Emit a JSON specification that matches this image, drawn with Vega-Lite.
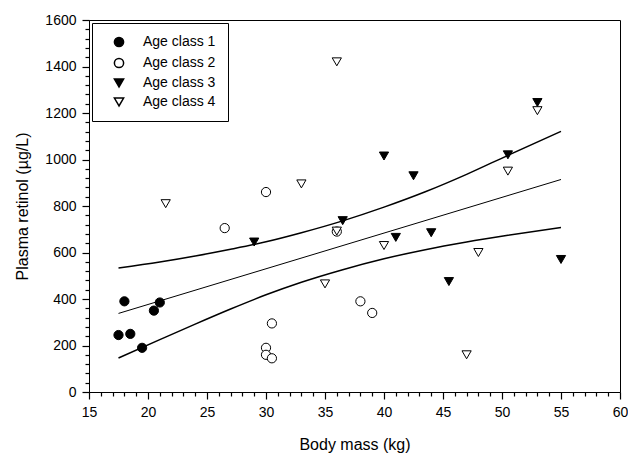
{
  "$schema": "https://vega.github.io/schema/vega-lite/v6.json",
  "width": 531,
  "height": 372,
  "autosize": {"type": "none"},
  "padding": {"left": 89, "top": 20, "right": 8, "bottom": 63},
  "background": "white",
  "config": {
    "font": "Liberation Sans",
    "view": {"stroke": "black", "strokeWidth": 1},
    "axis": {
      "domainColor": "black",
      "domainWidth": 1,
      "ticks": true,
      "tickColor": "black",
      "tickWidth": 1.2,
      "grid": false,
      "labelColor": "black",
      "labelFontSize": 14,
      "titleColor": "black",
      "titleFontSize": 16,
      "titleFontWeight": "normal"
    },
    "legend": {
      "orient": "none",
      "legendX": 3,
      "legendY": 3,
      "strokeColor": "black",
      "fillColor": "white",
      "padding": 12,
      "symbolOffset": 8,
      "labelOffset": 17,
      "labelFontSize": 14,
      "labelColor": "black",
      "rowPadding": 5
    }
  },
  "datasets": {
    "samples": [
      {"mass": 17.5, "retinol": 245, "cls": "Age class 1"},
      {"mass": 18, "retinol": 390, "cls": "Age class 1"},
      {"mass": 18.5, "retinol": 250, "cls": "Age class 1"},
      {"mass": 19.5, "retinol": 190, "cls": "Age class 1"},
      {"mass": 20.5, "retinol": 350, "cls": "Age class 1"},
      {"mass": 21, "retinol": 385, "cls": "Age class 1"},
      {"mass": 26.5, "retinol": 705, "cls": "Age class 2"},
      {"mass": 30, "retinol": 860, "cls": "Age class 2"},
      {"mass": 30.5, "retinol": 295, "cls": "Age class 2"},
      {"mass": 30, "retinol": 190, "cls": "Age class 2"},
      {"mass": 30, "retinol": 160, "cls": "Age class 2"},
      {"mass": 30.5, "retinol": 145, "cls": "Age class 2"},
      {"mass": 36, "retinol": 690, "cls": "Age class 2"},
      {"mass": 38, "retinol": 390, "cls": "Age class 2"},
      {"mass": 39, "retinol": 340, "cls": "Age class 2"},
      {"mass": 29, "retinol": 645, "cls": "Age class 3"},
      {"mass": 36.5, "retinol": 737, "cls": "Age class 3"},
      {"mass": 40, "retinol": 1015, "cls": "Age class 3"},
      {"mass": 42.5, "retinol": 930, "cls": "Age class 3"},
      {"mass": 41, "retinol": 665, "cls": "Age class 3"},
      {"mass": 44, "retinol": 685, "cls": "Age class 3"},
      {"mass": 45.5, "retinol": 475, "cls": "Age class 3"},
      {"mass": 50.5, "retinol": 1020, "cls": "Age class 3"},
      {"mass": 53, "retinol": 1245, "cls": "Age class 3"},
      {"mass": 55, "retinol": 570, "cls": "Age class 3"},
      {"mass": 21.5, "retinol": 810, "cls": "Age class 4"},
      {"mass": 33, "retinol": 895, "cls": "Age class 4"},
      {"mass": 36, "retinol": 1420, "cls": "Age class 4"},
      {"mass": 35, "retinol": 465, "cls": "Age class 4"},
      {"mass": 36, "retinol": 692, "cls": "Age class 4"},
      {"mass": 40, "retinol": 630, "cls": "Age class 4"},
      {"mass": 47, "retinol": 160, "cls": "Age class 4"},
      {"mass": 48, "retinol": 600, "cls": "Age class 4"},
      {"mass": 50.5, "retinol": 950, "cls": "Age class 4"},
      {"mass": 53, "retinol": 1210, "cls": "Age class 4"}
    ],
    "fit": [
      {"mass": 17.5, "retinol": 338, "curve": "fit"},
      {"mass": 55, "retinol": 914, "curve": "fit"}
    ],
    "band": [
      {"mass": 17.5, "retinol": 533, "curve": "upper"},
      {"mass": 21, "retinol": 559, "curve": "upper"},
      {"mass": 24, "retinol": 585, "curve": "upper"},
      {"mass": 27, "retinol": 614, "curve": "upper"},
      {"mass": 30, "retinol": 646, "curve": "upper"},
      {"mass": 33, "retinol": 685, "curve": "upper"},
      {"mass": 36.5, "retinol": 736, "curve": "upper"},
      {"mass": 40, "retinol": 795, "curve": "upper"},
      {"mass": 43.5, "retinol": 861, "curve": "upper"},
      {"mass": 47, "retinol": 936, "curve": "upper"},
      {"mass": 50.5, "retinol": 1018, "curve": "upper"},
      {"mass": 55, "retinol": 1121, "curve": "upper"},
      {"mass": 17.5, "retinol": 146, "curve": "lower"},
      {"mass": 21, "retinol": 225, "curve": "lower"},
      {"mass": 24, "retinol": 292, "curve": "lower"},
      {"mass": 27, "retinol": 357, "curve": "lower"},
      {"mass": 30, "retinol": 418, "curve": "lower"},
      {"mass": 33, "retinol": 472, "curve": "lower"},
      {"mass": 36.5, "retinol": 526, "curve": "lower"},
      {"mass": 40, "retinol": 573, "curve": "lower"},
      {"mass": 43.5, "retinol": 612, "curve": "lower"},
      {"mass": 47, "retinol": 645, "curve": "lower"},
      {"mass": 50.5, "retinol": 674, "curve": "lower"},
      {"mass": 55, "retinol": 708, "curve": "lower"}
    ]
  },
  "layer": [
    {
      "data": {"name": "band"},
      "mark": {"type": "line", "color": "black", "strokeWidth": 1.5, "interpolate": "monotone"},
      "encoding": {
        "x": {
          "field": "mass",
          "type": "quantitative",
          "scale": {"domain": [15, 60], "nice": false, "zero": false},
          "axis": {
            "orient": "bottom",
            "title": null,
            "labels": false,
            "domain": false,
            "tickSize": 4,
            "values": [16,17,18,19,21,22,23,24,26,27,28,29,31,32,33,34,36,37,38,39,41,42,43,44,46,47,48,49,51,52,53,54,56,57,58,59]
          }
        },
        "y": {
          "field": "retinol",
          "type": "quantitative",
          "scale": {"domain": [0, 1600], "nice": false},
          "axis": {
            "orient": "left",
            "title": null,
            "labels": false,
            "domain": false,
            "tickSize": 4,
            "values": [40,80,120,160,240,280,320,360,440,480,520,560,640,680,720,760,840,880,920,960,1040,1080,1120,1160,1240,1280,1320,1360,1440,1480,1520,1560]
          }
        },
        "detail": {"field": "curve"}
      }
    },
    {
      "data": {"name": "fit"},
      "mark": {"type": "line", "color": "black", "strokeWidth": 1},
      "encoding": {
        "x": {
          "field": "mass",
          "type": "quantitative",
          "scale": {"domain": [15, 60], "nice": false, "zero": false},
          "axis": null
        },
        "y": {
          "field": "retinol",
          "type": "quantitative",
          "scale": {"domain": [0, 1600], "nice": false},
          "axis": null
        },
        "detail": {"field": "curve"}
      }
    },
    {
      "data": {"name": "samples"},
      "mark": {"type": "point", "filled": true, "stroke": "black", "strokeWidth": 1, "opacity": 1},
      "encoding": {
        "x": {
          "field": "mass",
          "type": "quantitative",
          "scale": {"domain": [15, 60], "nice": false, "zero": false},
          "axis": {
            "orient": "bottom",
            "title": "Body mass (kg)",
            "values": [15, 20, 25, 30, 35, 40, 45, 50, 55, 60],
            "tickSize": 7,
            "labelPadding": 6,
            "labelFlush": false,
            "labelOverlap": false,
            "titlePadding": 17
          }
        },
        "y": {
          "field": "retinol",
          "type": "quantitative",
          "scale": {"domain": [0, 1600], "nice": false},
          "axis": {
            "orient": "left",
            "title": "Plasma retinol (µg/L)",
            "values": [0, 200, 400, 600, 800, 1000, 1200, 1400, 1600],
            "format": "d",
            "tickSize": 7,
            "labelPadding": 6,
            "labelFlush": false,
            "labelOverlap": false,
            "titlePadding": 14
          }
        },
        "shape": {
          "field": "cls",
          "type": "nominal",
          "scale": {"domain": ["Age class 1", "Age class 2", "Age class 3", "Age class 4"], "range": ["circle", "circle", "triangle-down", "triangle-down"]},
          "legend": {
            "title": null,
            "encode": {"symbols": {"update": {"stroke": {"value": "black"}, "strokeWidth": {"value": 1}}}}
          }
        },
        "fill": {
          "field": "cls",
          "type": "nominal",
          "scale": {"domain": ["Age class 1", "Age class 2", "Age class 3", "Age class 4"], "range": ["black", "white", "black", "white"]},
          "legend": {
            "title": null,
            "encode": {"symbols": {"update": {"stroke": {"value": "black"}, "strokeWidth": {"value": 1}}}}
          }
        },
        "size": {
          "field": "cls",
          "type": "nominal",
          "scale": {"domain": ["Age class 1", "Age class 2", "Age class 3", "Age class 4"], "range": [85, 85, 110, 110]},
          "legend": {
            "title": null,
            "encode": {"symbols": {"update": {"stroke": {"value": "black"}, "strokeWidth": {"value": 1}}}}
          }
        }
      }
    }
  ],
  "resolve": {"axis": {"x": "independent", "y": "independent"}}
}
